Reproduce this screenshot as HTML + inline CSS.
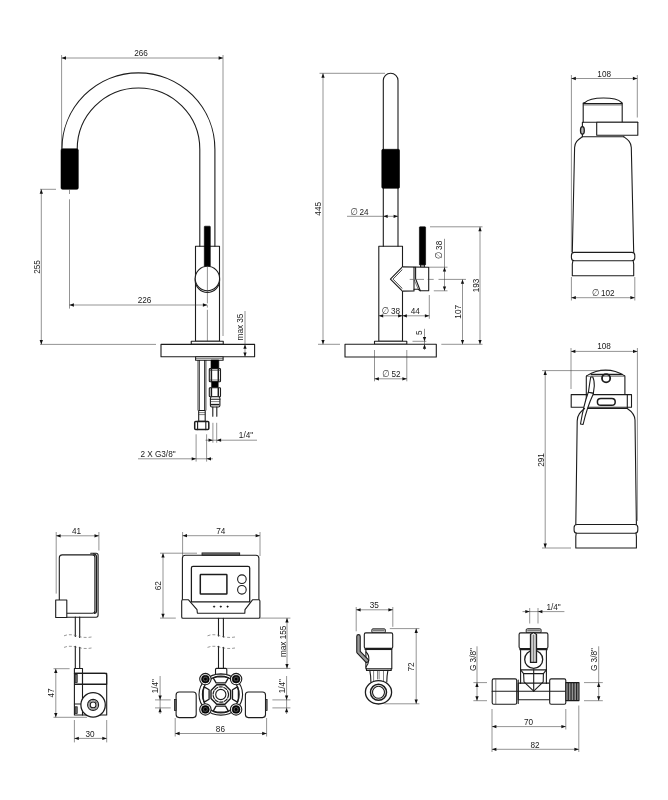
<!DOCTYPE html>
<html lang="en">
<head>
<meta charset="utf-8">
<title>Technical drawing</title>
<style>
html,body{margin:0;padding:0;background:#fff;}
body{width:668px;height:800px;overflow:hidden;}
svg{display:block;filter:blur(0.35px);font-family:"Liberation Sans","DejaVu Sans",sans-serif;}
svg text{font-size:8.2px;fill:#1a1a1a;text-anchor:middle;}
svg .ds{font-size:10px;fill:#333;font-style:italic;}
.o{fill:none;stroke:#1c1c1c;stroke-width:1.1;stroke-linejoin:round;stroke-linecap:round;}
.w{fill:#fff;stroke:#1c1c1c;stroke-width:1.1;stroke-linejoin:round;}
.t{fill:none;stroke:#1c1c1c;stroke-width:1.5;stroke-linejoin:round;}
.h{fill:none;stroke:#2a2a2a;stroke-width:0.6;}
.k{fill:#000;stroke:#000;stroke-width:0.6;stroke-linejoin:round;}
.g{fill:#777;stroke:#1c1c1c;stroke-width:0.8;}
.gl{fill:#c4c4c4;stroke:#1c1c1c;stroke-width:0.9;}
.d{fill:none;stroke:#3a3a3a;stroke-width:0.55;}
.c{fill:none;stroke:#3a3a3a;stroke-width:0.55;stroke-dasharray:9 2 2 2;}
.b{fill:none;stroke:#555;stroke-width:0.6;stroke-dasharray:3 2;}
.a{fill:#111;stroke:none;}
</style>
</head>
<body>
<svg width="668" height="800" viewBox="0 0 668 800">
<rect x="0" y="0" width="668" height="800" fill="#fff"/>
<g id="faucet-front">
<path class="o" d="M61.9 149.3 A76.5 76.5 0 0 1 214.9 149.3 L214.9 246.2"/>
<path class="o" d="M77.2 149.3 A61.3 61.3 0 0 1 199.8 149.3 L199.8 246.2"/>
<rect class="k" x="61" y="148.8" width="17.3" height="40.5" rx="1.5"/>
<rect class="o" x="195.5" y="246.25" width="24" height="95"/>
<rect class="k" x="204.3" y="226.2" width="6" height="40.2" rx="0.6"/>
<circle class="w" cx="207.4" cy="280.2" r="12.2"/>
<circle class="w" cx="207.4" cy="278.5" r="12.2"/>
<path class="d" d="M207.4 266 L207.4 303.4 M207.4 305.3 L207.4 307.6 M207.4 309.8 L207.4 345.2"/>
<rect class="w" x="191.25" y="341.25" width="32" height="3.15"/>
<rect class="w" x="161" y="344.4" width="93.6" height="12.4"/>
<rect class="w" x="195.6" y="356.7" width="27.5" height="3.5"/>
<line class="h" x1="195.6" y1="358.4" x2="223.1" y2="358.4"/>
<line class="h" x1="198" y1="360" x2="198" y2="410.5" style="stroke:#111;stroke-width:0.8"/>
<line class="h" x1="199.4" y1="360" x2="199.4" y2="410.5" style="stroke:#111;stroke-width:0.8"/>
<line class="h" x1="204.5" y1="360" x2="204.5" y2="410.5" style="stroke:#111;stroke-width:0.8"/>
<line class="h" x1="205.9" y1="360" x2="205.9" y2="410.5" style="stroke:#111;stroke-width:0.8"/>
<rect class="w" x="198.7" y="410.5" width="6.5" height="10.8"/>
<line class="h" x1="198.7" y1="412.6" x2="205.2" y2="412.6"/>
<line class="h" x1="198.7" y1="414.6" x2="205.2" y2="414.6"/>
<rect class="t" x="194.7" y="421.4" width="14.1" height="8.2" rx="1"/>
<line class="o" x1="197.6" y1="421.4" x2="197.6" y2="429.6"/>
<line class="o" x1="205.8" y1="421.4" x2="205.8" y2="429.6"/>
<rect class="k" x="211" y="360" width="7.8" height="8.6"/>
<rect class="w" x="209.3" y="368.6" width="11.2" height="13.2" rx="0.8"/>
<line class="t" x1="211.4" y1="368.6" x2="211.4" y2="381.8"/>
<line class="t" x1="218.3" y1="368.6" x2="218.3" y2="381.8"/>
<line class="h" x1="209.3" y1="370.4" x2="220.5" y2="370.4"/>
<line class="h" x1="209.3" y1="380" x2="220.5" y2="380"/>
<rect class="k" x="211.6" y="381.8" width="6.6" height="5.9"/>
<rect class="w" x="209.3" y="387.7" width="11.2" height="9" rx="0.8"/>
<line class="t" x1="211.4" y1="387.7" x2="211.4" y2="396.7"/>
<line class="t" x1="218.3" y1="387.7" x2="218.3" y2="396.7"/>
<rect class="w" x="210.4" y="396.7" width="9.5" height="10.3" rx="1.6"/>
<line class="o" x1="210.4" y1="399.2" x2="219.9" y2="399.2"/>
<line class="h" x1="210.4" y1="401.6" x2="219.9" y2="401.6"/>
<line class="t" x1="211" y1="404.6" x2="219.3" y2="404.6"/>
<line class="o" x1="212.8" y1="407" x2="212.8" y2="416.3"/>
<line class="o" x1="216.8" y1="407" x2="216.8" y2="416.3"/>
<line class="d" x1="61.6" y1="55" x2="61.6" y2="149"/>
<line class="d" x1="223" y1="55" x2="223" y2="336"/>
<line class="d" x1="61.6" y1="58" x2="223" y2="58"/>
<polygon class="a" points="61.6,58 66,56.35 66,59.65"/>
<polygon class="a" points="223,58 218.6,56.35 218.6,59.65"/>
<text x="141" y="55.95">266</text>
<line class="d" x1="40" y1="189.3" x2="56" y2="189.3"/>
<line class="d" x1="40" y1="344.4" x2="156" y2="344.4"/>
<line class="d" x1="41.3" y1="189.3" x2="41.3" y2="344.4"/>
<polygon class="a" points="41.3,189.3 39.65,193.7 42.95,193.7"/>
<polygon class="a" points="41.3,344.4 39.65,340 42.95,340"/>
<text transform="translate(36.8 267) rotate(-90)" y="2.95">255</text>
<path class="d" d="M69.5 189.8 L69.5 194 M69.5 199.3 L69.5 308.6"/>
<line class="d" x1="69.5" y1="305" x2="207.3" y2="305"/>
<polygon class="a" points="69.5,305 73.9,303.35 73.9,306.65"/>
<polygon class="a" points="207.3,305 202.9,303.35 202.9,306.65"/>
<text x="144.5" y="303.15">226</text>
<line class="d" x1="245" y1="311" x2="245" y2="356.8"/>
<polygon class="a" points="245,344.4 243.35,348.8 246.65,348.8"/>
<polygon class="a" points="245,356.8 243.35,352.4 246.65,352.4"/>
<text transform="translate(240.2 327) rotate(-90)" y="2.95">max 35</text>
<line class="d" x1="212.9" y1="422.8" x2="212.9" y2="442.7"/>
<line class="d" x1="216.7" y1="422.8" x2="216.7" y2="442.7"/>
<line class="d" x1="205.5" y1="440.2" x2="257" y2="440.2"/>
<polygon class="a" points="212.9,440.2 208.5,438.55 208.5,441.85"/>
<polygon class="a" points="216.7,440.2 221.1,438.55 221.1,441.85"/>
<text x="246" y="438.25">1/4"</text>
<line class="d" x1="196.1" y1="434.3" x2="196.1" y2="461.6"/>
<line class="d" x1="206.6" y1="434.3" x2="206.6" y2="461.6"/>
<line class="d" x1="138" y1="458.8" x2="212.9" y2="458.8"/>
<polygon class="a" points="196.1,458.8 191.7,457.15 191.7,460.45"/>
<polygon class="a" points="206.6,458.8 211,457.15 211,460.45"/>
<text x="158" y="456.55">2 X G3/8"</text>
</g>
<g id="faucet-side">
<path class="o" d="M383.3 246.2 L383.3 80.6 A7.35 7.35 0 0 1 398 80.6 L398 246.2"/>
<rect class="k" x="381.8" y="149.3" width="17.7" height="39" rx="1.2"/>
<path class="o" d="M402.5 266.8 L402.5 246.25 L378.8 246.25 L378.8 341.25 L402.5 341.25 L402.5 291.1"/>
<rect class="w" x="374.5" y="341.25" width="32.3" height="3.05"/>
<rect class="w" x="345" y="344.3" width="91.3" height="12.7"/>
<rect class="k" x="419.4" y="226.8" width="6.2" height="38.2" rx="0.6"/>
<rect class="w" x="420.6" y="265" width="3.8" height="2.3"/>
<path class="o" d="M402.4 266.8 L390.4 279.1 L402.4 291.1"/>
<path class="o" d="M402.6 269.3 L393 279.1 L402.6 288.8" style="stroke-width:0.8"/>
<path class="w" d="M402.4 266.9 L428.7 267.3 L428.7 290.7 L420.2 290.7 L418.2 289.2 L414 289.2 L414 291 L402.4 291.1"/>
<line class="o" x1="414" y1="267.2" x2="414" y2="289.2"/>
<path class="o" d="M415.6 267.3 L415.6 278.7 L420.3 290.7"/>
<path class="h" d="M414 279.3 L418.1 288.9"/>
<path class="d" d="M409.7 279.4 L413 279.4 M416.3 279.4 L424 279.4 M427.7 279.4 L433.7 279.4 M438.5 279.4 L466 279.4"/>
<line class="d" x1="319.5" y1="73.3" x2="385" y2="73.3"/>
<line class="d" x1="318" y1="344.3" x2="340" y2="344.3"/>
<line class="d" x1="323" y1="73.3" x2="323" y2="344.3"/>
<polygon class="a" points="323,73.3 321.35,77.7 324.65,77.7"/>
<polygon class="a" points="323,344.3 321.35,339.9 324.65,339.9"/>
<text transform="translate(318.3 208.8) rotate(-90)" y="2.95">445</text>
<line class="d" x1="347" y1="216.3" x2="398" y2="216.3"/>
<polygon class="a" points="383.3,216.3 387.7,214.65 387.7,217.95"/>
<polygon class="a" points="398,216.3 393.6,214.65 393.6,217.95"/>
<text x="359.4" y="214.75"><tspan class="ds" textLength="7.6" lengthAdjust="spacingAndGlyphs">&#8709;</tspan><tspan dx="-0.6"> </tspan>24</text>
<line class="d" x1="429" y1="267.2" x2="447.5" y2="267.2"/>
<line class="d" x1="433.8" y1="290.8" x2="447.5" y2="290.8"/>
<line class="d" x1="444.5" y1="238.8" x2="444.5" y2="290.8"/>
<polygon class="a" points="444.5,267.2 442.85,271.6 446.15,271.6"/>
<polygon class="a" points="444.5,290.8 442.85,286.4 446.15,286.4"/>
<text transform="translate(439.4 250) rotate(-90)" y="2.95"><tspan class="ds" textLength="7.6" lengthAdjust="spacingAndGlyphs">&#8709;</tspan><tspan dx="-0.6"> </tspan>38</text>
<line class="d" x1="462.5" y1="279.4" x2="462.5" y2="344.3"/>
<polygon class="a" points="462.5,279.4 460.85,283.8 464.15,283.8"/>
<polygon class="a" points="462.5,344.3 460.85,339.9 464.15,339.9"/>
<text transform="translate(457.6 311.8) rotate(-90)" y="2.95">107</text>
<line class="d" x1="430" y1="226.8" x2="482.5" y2="226.8"/>
<line class="d" x1="441.3" y1="344.3" x2="482.5" y2="344.3"/>
<line class="d" x1="480" y1="226.8" x2="480" y2="344.3"/>
<polygon class="a" points="480,226.8 478.35,231.2 481.65,231.2"/>
<polygon class="a" points="480,344.3 478.35,339.9 481.65,339.9"/>
<text transform="translate(475.8 285.5) rotate(-90)" y="2.95">193</text>
<line class="d" x1="378.8" y1="315.8" x2="429.3" y2="315.8"/>
<polygon class="a" points="378.8,315.8 383.2,314.15 383.2,317.45"/>
<polygon class="a" points="402.5,315.8 398.1,314.15 398.1,317.45"/>
<polygon class="a" points="402.5,315.8 406.9,314.15 406.9,317.45"/>
<polygon class="a" points="429.3,315.8 424.9,314.15 424.9,317.45"/>
<line class="d" x1="429.3" y1="295" x2="429.3" y2="318.8"/>
<text x="390.8" y="313.75"><tspan class="ds" textLength="7.6" lengthAdjust="spacingAndGlyphs">&#8709;</tspan><tspan dx="-0.6"> </tspan>38</text>
<text x="415.2" y="313.75">44</text>
<line class="d" x1="412.5" y1="341.3" x2="426.3" y2="341.3"/>
<line class="d" x1="424.5" y1="328.8" x2="424.5" y2="350"/>
<polygon class="a" points="424.5,341.3 422.85,336.9 426.15,336.9"/>
<polygon class="a" points="424.5,344.3 422.85,348.7 426.15,348.7"/>
<text transform="translate(419.4 332.6) rotate(-90)" y="2.95">5</text>
<line class="d" x1="374.5" y1="350" x2="374.5" y2="381.3"/>
<line class="d" x1="406.8" y1="350" x2="406.8" y2="381.3"/>
<line class="d" x1="374.5" y1="378.8" x2="406.8" y2="378.8"/>
<polygon class="a" points="374.5,378.8 378.9,377.15 378.9,380.45"/>
<polygon class="a" points="406.8,378.8 402.4,377.15 402.4,380.45"/>
<text x="391.3" y="376.75"><tspan class="ds" textLength="7.6" lengthAdjust="spacingAndGlyphs">&#8709;</tspan><tspan dx="-0.6"> </tspan>52</text>
</g>
<g id="filter-1">
<path class="o" d="M584.8 102.6 C591 96.6 615.5 96.6 621.4 102.3"/>
<path class="o" d="M583.2 122.3 L583.2 103 L584.8 102.6 M622.2 122.3 L622.2 103 L621.4 102.3"/>
<line class="o" x1="583.4" y1="103.6" x2="622" y2="103.6"/>
<line class="h" x1="583.4" y1="105" x2="622" y2="105"/>
<path class="o" d="M623.7 136.7 L582.4 136.7 L582.4 122.3 L637.8 122.3"/>
<rect class="w" x="596.7" y="122.3" width="41.1" height="13"/>
<ellipse class="w" cx="582.4" cy="130.4" rx="1.9" ry="3.7" style="stroke-width:1.3;fill:#bbb"/>
<path class="o" d="M582.4 136.7 C578.5 139.5 574.8 141.5 574.6 147.5 L572.3 252.4 M623.7 136.7 C627.5 139.5 631 141.5 631.3 147.5 L633.7 252.4"/>
<rect class="w" x="571.4" y="252.4" width="63.4" height="8.4" rx="3"/>
<path class="o" d="M572.9 260.8 L572.3 264 L572.3 275.7 L633.7 275.7 L633.7 264 L633.2 260.8"/>
<line class="d" x1="571.4" y1="75" x2="571.4" y2="252"/>
<line class="d" x1="637.3" y1="75" x2="637.3" y2="117.5"/>
<line class="d" x1="571.4" y1="78.5" x2="637.3" y2="78.5"/>
<polygon class="a" points="571.4,78.5 575.8,76.85 575.8,80.15"/>
<polygon class="a" points="637.3,78.5 632.9,76.85 632.9,80.15"/>
<text x="604.2" y="76.75">108</text>
<line class="d" x1="571.4" y1="277" x2="571.4" y2="300.5"/>
<line class="d" x1="634.8" y1="277" x2="634.8" y2="300.5"/>
<line class="d" x1="571.4" y1="297.7" x2="634.8" y2="297.7"/>
<polygon class="a" points="571.4,297.7 575.8,296.05 575.8,299.35"/>
<polygon class="a" points="634.8,297.7 630.4,296.05 630.4,299.35"/>
<text x="603.2" y="295.55"><tspan class="ds" textLength="7.6" lengthAdjust="spacingAndGlyphs">&#8709;</tspan><tspan dx="-0.6"> </tspan>102</text>
</g>
<g id="filter-2">
<path class="o" d="M586.3 394.6 L586.3 376.6 Q586.4 375.9 587 375.6 A34.4 34.4 0 0 1 624.3 375.6 Q624.9 375.9 624.9 376.6 L624.9 394.6"/>
<line class="t" x1="590.7" y1="374.6" x2="622.5" y2="374.6"/>
<line class="h" x1="586.6" y1="376.3" x2="624.6" y2="376.3"/>
<circle class="o" cx="606.1" cy="378.3" r="4.1" style="stroke-width:1.8"/>
<rect class="w" x="571.2" y="394.6" width="60.3" height="12.7"/>
<path class="o" d="M586.3 394.6 L586.3 408.5 L627.3 408.5 L627.3 394.6"/>
<rect class="t" x="597.4" y="398.6" width="17.8" height="6.7" rx="3.35"/>
<path class="w" d="M590.7 377 L589.6 384 L588.4 392.4 L593.3 393.6 L594.3 386 Q594.3 380 592.8 377 Z"/>
<path class="w" d="M588.3 392.2 L593.5 393.4 C589 403 585.6 413 583.1 424.5 L580.5 424 C582.5 412 585 401 588.3 392.2 Z"/>
<path class="o" d="M584.6 408.5 C581 411.5 577.2 414.5 577.2 421 L575.8 524.5 M627.3 408.5 C631 411 634.8 414 635 420 L636.4 524.5"/>
<rect class="w" x="574.1" y="524.5" width="63.7" height="8.8" rx="3"/>
<path class="o" d="M576.2 533.3 L575.8 536.5 L575.8 548 L636.4 548 L636.4 536.5 L636 533.3"/>
<line class="d" x1="571" y1="348" x2="571" y2="389"/>
<line class="d" x1="637.4" y1="348" x2="637.4" y2="521"/>
<line class="d" x1="571" y1="351.4" x2="637.4" y2="351.4"/>
<polygon class="a" points="571,351.4 575.4,349.75 575.4,353.05"/>
<polygon class="a" points="637.4,351.4 633,349.75 633,353.05"/>
<text x="604.1" y="349.45">108</text>
<line class="d" x1="542" y1="370.6" x2="607.6" y2="370.6"/>
<line class="d" x1="542" y1="548" x2="571" y2="548"/>
<line class="d" x1="545.2" y1="370.6" x2="545.2" y2="548"/>
<polygon class="a" points="545.2,370.6 543.55,375 546.85,375"/>
<polygon class="a" points="545.2,548 543.55,543.6 546.85,543.6"/>
<text transform="translate(541 460) rotate(-90)" y="2.95">291</text>
</g>
<g id="control-side">
<path class="o" d="M59.3 600 L59.3 557.9 Q59.3 554.9 62.3 554.9 L92.4 554.9 Q94.9 554.9 94.9 557.4 L94.9 610.8 Q94.9 613.3 92.4 613.3 L66.8 613.3"/>
<path class="o" d="M90.7 553.3 L96.1 553.3 Q98.1 553.3 98.1 555.3 L98.1 615 Q98.1 617.2 96.1 617.2 L66.8 617.2"/>
<path class="t" d="M93 553.9 Q96.5 554 96.5 557 L96.5 611 Q96.5 613.3 94 613.3" style="stroke-width:1.3"/>
<rect class="w" x="55.7" y="600" width="11.1" height="17.5"/>
<line class="o" x1="75.3" y1="617" x2="75.3" y2="636.5"/>
<line class="o" x1="79.7" y1="617" x2="79.7" y2="637.5"/>
<line class="o" x1="75.3" y1="646.2" x2="75.3" y2="668.5"/>
<line class="o" x1="79.7" y1="647.2" x2="79.7" y2="668.5"/>
<path class="b" d="M64 635.8 C68 634.2 72 634.4 76.5 635.8 C81 637.3 86 638 91.5 637"/>
<path class="b" d="M64 647.4 C68 645.8 72 646 76.5 647.2 C81 648.4 86 649 91.5 648"/>
<rect class="w" x="74.4" y="668.5" width="8.1" height="4.9"/>
<path class="o" d="M82.5 684.2 L82.5 673.4 L104.7 673.4 Q106.7 673.4 106.7 675.4 L106.7 684.2"/>
<rect class="o" x="74.4" y="673.4" width="32.3" height="41.6"/>
<line class="o" x1="82.5" y1="673.4" x2="82.5" y2="715"/>
<line class="t" x1="74.4" y1="684.2" x2="106.7" y2="684.2"/>
<line class="o" x1="74.4" y1="704" x2="81.5" y2="704"/>
<rect class="g" x="75" y="674.6" width="2.2" height="7.8"/>
<rect class="g" x="75" y="706.8" width="2.2" height="6.6"/>
<circle class="w" cx="93.1" cy="704.9" r="12.2" style="stroke-width:1.25"/>
<circle class="o" cx="93.1" cy="704.9" r="5.5"/>
<circle class="h" cx="93.1" cy="704.9" r="4.2"/>
<circle class="o" cx="93.1" cy="704.9" r="2.9"/>
<line class="d" x1="56.2" y1="532" x2="56.2" y2="593.6"/>
<line class="d" x1="98.9" y1="532" x2="98.9" y2="550.5"/>
<line class="d" x1="56.2" y1="535.8" x2="98.9" y2="535.8"/>
<polygon class="a" points="56.2,535.8 60.6,534.15 60.6,537.45"/>
<polygon class="a" points="98.9,535.8 94.5,534.15 94.5,537.45"/>
<text x="76.5" y="534.05">41</text>
<line class="d" x1="53.5" y1="668.7" x2="69.6" y2="668.7"/>
<line class="d" x1="53.5" y1="717.3" x2="87" y2="717.3"/>
<line class="d" x1="55.8" y1="668.7" x2="55.8" y2="717.3"/>
<polygon class="a" points="55.8,668.7 54.15,673.1 57.45,673.1"/>
<polygon class="a" points="55.8,717.3 54.15,712.9 57.45,712.9"/>
<text transform="translate(51.1 693) rotate(-90)" y="2.95">47</text>
<line class="d" x1="74.4" y1="720" x2="74.4" y2="742.4"/>
<line class="d" x1="106.7" y1="720" x2="106.7" y2="742.4"/>
<line class="d" x1="74.4" y1="738.4" x2="106.7" y2="738.4"/>
<polygon class="a" points="74.4,738.4 78.8,736.75 78.8,740.05"/>
<polygon class="a" points="106.7,738.4 102.3,736.75 102.3,740.05"/>
<text x="90" y="736.75">30</text>
</g>
<g id="control-front">
<rect class="g" x="202" y="552.9" width="37.7" height="2.3"/>
<path class="o" d="M182.4 600 L182.4 558.2 Q182.4 555.2 185.4 555.2 L255.9 555.2 Q258.9 555.2 258.9 558.2 L258.9 600"/>
<path class="w" d="M181.7 601 Q181.7 599.8 182.9 599.8 L188.5 599.8 L197 609.7 L197.4 613.3 L244.8 613.3 L245 609.7 L252.5 599.8 L258.7 599.8 Q259.9 599.8 259.9 601 L259.9 617 Q259.9 618.3 258.6 618.3 L183 618.3 Q181.7 618.3 181.7 617 Z"/>
<path class="t" d="M191.4 601.9 L191.4 568 Q191.4 566.3 193 566.3 L248 566.3 Q249.7 566.3 249.7 568 L249.7 601.9 Z" style="stroke-width:1.25"/>
<rect class="t" x="200.3" y="574.6" width="26.6" height="19.5" rx="0.6"/>
<circle class="o" cx="241.9" cy="579.2" r="4.3"/>
<circle class="o" cx="241.9" cy="589.8" r="4.3"/>
<circle class="k" cx="214.1" cy="606.6" r="0.7"/>
<circle class="k" cx="220.8" cy="606.6" r="0.7"/>
<circle class="k" cx="227.6" cy="606.6" r="0.7"/>
<line class="o" x1="218.5" y1="618.3" x2="218.5" y2="636"/>
<line class="o" x1="223.4" y1="618.3" x2="223.4" y2="637"/>
<line class="o" x1="218.5" y1="646.2" x2="218.5" y2="668.4"/>
<line class="o" x1="223.4" y1="647.2" x2="223.4" y2="668.4"/>
<path class="b" d="M207.5 635.8 C211.5 634.2 215.5 634.4 220 635.8 C224.5 637.3 229.5 638 235 637"/>
<path class="b" d="M207.5 647.4 C211.5 645.8 215.5 646 220 647.2 C224.5 648.4 229.5 649 235 648"/>
<path class="w" d="M215.5 676.5 L215.5 669.4 Q215.5 668.4 216.5 668.4 L225.8 668.4 Q226.8 668.4 226.8 669.4 L226.8 676.5"/>
<rect class="w" x="176.1" y="692" width="20.1" height="25.6" rx="3"/>
<rect class="w" x="245.4" y="692" width="20.1" height="25.6" rx="3"/>
<rect class="g" x="174.5" y="699.4" width="1.6" height="11"/>
<rect class="g" x="265.5" y="699.4" width="1.6" height="11"/>
<ellipse class="w" cx="220.8" cy="694.5" rx="21.8" ry="20.6"/>
<line class="h" x1="216" y1="674.4" x2="226.3" y2="674.4"/>
<circle class="o" cx="220.8" cy="694.5" r="18.4"/>
<path class="t" d="M216.1 682.8 L225.5 682.8 L228.4 677.9 L224.8 676.9 L216.8 676.9 L213.2 677.9 Z" style="stroke-width:1.3"/>
<path class="t" d="M232.5 689.8 L232.5 699.2 L237.4 702.1 L238.4 698.5 L238.4 690.5 L237.4 686.9 Z" style="stroke-width:1.3"/>
<path class="t" d="M225.5 706.2 L216.1 706.2 L213.2 711.1 L216.8 712.1 L224.8 712.1 L228.4 711.1 Z" style="stroke-width:1.3"/>
<path class="t" d="M209.1 699.2 L209.1 689.8 L204.2 686.9 L203.2 690.5 L203.2 698.5 L204.2 702.1 Z" style="stroke-width:1.3"/>
<path class="t" d="M230.59 698.56 L224.86 704.29 L216.74 704.29 L211.01 698.56 L211.01 690.44 L216.74 684.71 L224.86 684.71 L230.59 690.44 Z" style="stroke-width:1.4"/>
<circle class="o" cx="220.8" cy="694.5" r="7.7" style="stroke-dasharray:3.4 1.5;stroke-width:1.2"/>
<circle class="o" cx="220.8" cy="694.5" r="5.1"/>
<circle class="w" cx="205.4" cy="679.1" r="5.7"/>
<circle class="k" cx="205.4" cy="679.1" r="3.9"/>
<circle class="g" cx="205.4" cy="679.1" r="2.5"/>
<circle class="k" cx="205.4" cy="679.1" r="1.3"/>
<circle class="w" cx="236.1" cy="679.1" r="5.7"/>
<circle class="k" cx="236.1" cy="679.1" r="3.9"/>
<circle class="g" cx="236.1" cy="679.1" r="2.5"/>
<circle class="k" cx="236.1" cy="679.1" r="1.3"/>
<circle class="w" cx="205.4" cy="709.4" r="5.7"/>
<circle class="k" cx="205.4" cy="709.4" r="3.9"/>
<circle class="g" cx="205.4" cy="709.4" r="2.5"/>
<circle class="k" cx="205.4" cy="709.4" r="1.3"/>
<circle class="w" cx="236.1" cy="709.4" r="5.7"/>
<circle class="k" cx="236.1" cy="709.4" r="3.9"/>
<circle class="g" cx="236.1" cy="709.4" r="2.5"/>
<circle class="k" cx="236.1" cy="709.4" r="1.3"/>
<line class="d" x1="182.6" y1="532" x2="182.6" y2="556"/>
<line class="d" x1="260" y1="532" x2="260" y2="556"/>
<line class="d" x1="182.6" y1="535.7" x2="260" y2="535.7"/>
<polygon class="a" points="182.6,535.7 187,534.05 187,537.35"/>
<polygon class="a" points="260,535.7 255.6,534.05 255.6,537.35"/>
<text x="220.7" y="533.55">74</text>
<line class="d" x1="160" y1="553.2" x2="197" y2="553.2"/>
<line class="d" x1="160" y1="618.1" x2="175.8" y2="618.1"/>
<line class="d" x1="163" y1="553.2" x2="163" y2="618.1"/>
<polygon class="a" points="163,553.2 161.35,557.6 164.65,557.6"/>
<polygon class="a" points="163,618.1 161.35,613.7 164.65,613.7"/>
<text transform="translate(158.5 585.8) rotate(-90)" y="2.95">62</text>
<line class="d" x1="260" y1="618.1" x2="290.4" y2="618.1"/>
<line class="d" x1="226.5" y1="668.4" x2="290.4" y2="668.4"/>
<line class="d" x1="287" y1="618.1" x2="287" y2="668.4"/>
<polygon class="a" points="287,618.1 285.35,622.5 288.65,622.5"/>
<polygon class="a" points="287,668.4 285.35,664 288.65,664"/>
<text transform="translate(283.2 641.3) rotate(-90)" y="2.95">max 155</text>
<line class="d" x1="175.2" y1="718" x2="175.2" y2="736.5"/>
<line class="d" x1="266.6" y1="718" x2="266.6" y2="736.5"/>
<line class="d" x1="175.2" y1="733.5" x2="266.6" y2="733.5"/>
<polygon class="a" points="175.2,733.5 179.6,731.85 179.6,735.15"/>
<polygon class="a" points="266.6,733.5 262.2,731.85 262.2,735.15"/>
<text x="220.4" y="731.55">86</text>
<line class="d" x1="155" y1="699.9" x2="170.7" y2="699.9"/>
<line class="d" x1="155" y1="707.9" x2="170.7" y2="707.9"/>
<line class="d" x1="160.1" y1="676" x2="160.1" y2="714"/>
<polygon class="a" points="160.1,699.9 158.45,695.5 161.75,695.5"/>
<polygon class="a" points="160.1,707.9 158.45,712.3 161.75,712.3"/>
<text transform="translate(155.2 686.2) rotate(-90)" y="2.95">1/4"</text>
<line class="d" x1="272.4" y1="699.9" x2="290.4" y2="699.9"/>
<line class="d" x1="272.4" y1="707.9" x2="290.4" y2="707.9"/>
<line class="d" x1="286.6" y1="676" x2="286.6" y2="714"/>
<polygon class="a" points="286.6,699.9 284.95,695.5 288.25,695.5"/>
<polygon class="a" points="286.6,707.9 284.95,712.3 288.25,712.3"/>
<text transform="translate(282.4 686.2) rotate(-90)" y="2.95">1/4"</text>
</g>
<g id="valve-side">
<rect class="gl" x="371.8" y="628.8" width="13.6" height="4.2" rx="1.2"/>
<line class="h" x1="373" y1="630.3" x2="384.2" y2="630.3"/>
<rect class="w" x="364.3" y="632.9" width="28.4" height="15.5" rx="1.5"/>
<path class="t" d="M364.6 649.3 L392.4 649.3"/>
<path class="o" d="M365.9 650.2 L365.9 668.7 L391.8 668.7 L391.8 650.2"/>
<path class="o" d="M366.5 668.7 L366.5 670.4 L391.2 670.4 L391.2 668.7"/>
<path class="o" d="M369.8 670.4 Q370.9 676 370.9 682 M387.9 670.4 Q386.8 676 386.8 682"/>
<path class="h" d="M373.6 671 L373.6 681 M383.5 671 L383.5 681"/>
<path class="h" d="M377.5 670.4 L377.5 679.4 M379.1 670.4 L379.1 679.4"/>
<ellipse class="w" cx="378.5" cy="692.3" rx="13.1" ry="11.7" style="stroke-width:1.3"/>
<circle class="t" cx="378.5" cy="692.3" r="8"/>
<circle class="o" cx="378.5" cy="692.3" r="6"/>
<path class="o" d="M366 652 Q369.4 655 368.8 660 Q368.4 664 366 667"/>
<path d="M358.5 636.4 L358.5 652 L366.8 660.6" fill="none" stroke="#1c1c1c" stroke-width="4.6" stroke-linecap="round" stroke-linejoin="round"/>
<path d="M358.5 636.4 L358.5 652 L366.8 660.6" fill="none" stroke="#999" stroke-width="2.4" stroke-linecap="round" stroke-linejoin="round"/>
<line class="d" x1="356.2" y1="607" x2="356.2" y2="631.3"/>
<line class="d" x1="392.8" y1="607" x2="392.8" y2="626.8"/>
<line class="d" x1="356.2" y1="609.8" x2="392.8" y2="609.8"/>
<polygon class="a" points="356.2,609.8 360.6,608.15 360.6,611.45"/>
<polygon class="a" points="392.8,609.8 388.4,608.15 388.4,611.45"/>
<text x="374.2" y="608.25">35</text>
<line class="d" x1="389.8" y1="628.6" x2="419.4" y2="628.6"/>
<line class="d" x1="384.4" y1="703.8" x2="419.4" y2="703.8"/>
<line class="d" x1="416.2" y1="628.6" x2="416.2" y2="703.8"/>
<polygon class="a" points="416.2,628.6 414.55,633 417.85,633"/>
<polygon class="a" points="416.2,703.8 414.55,699.4 417.85,699.4"/>
<text transform="translate(411.4 666.9) rotate(-90)" y="2.95">72</text>
</g>
<g id="valve-front">
<rect class="gl" x="526.2" y="628.7" width="14.9" height="4.3" rx="1.2"/>
<line class="h" x1="527.4" y1="630.3" x2="539.9" y2="630.3"/>
<rect class="w" x="519.1" y="632.9" width="28.8" height="15.7" rx="1.5"/>
<path class="t" d="M519.4 649.5 L547.6 649.5"/>
<path class="o" d="M520.6 650.4 L520.6 669.9 L546.4 669.9 L546.4 650.4"/>
<circle class="o" cx="533.7" cy="659.4" r="9" style="stroke-width:1.3"/>
<path class="w" d="M530.4 662.4 L530.4 634.4 L533.5 632.6 L536.6 634.4 L536.6 662.4 Z"/>
<line class="h" x1="531.9" y1="634.6" x2="531.9" y2="662"/>
<line class="h" x1="533.5" y1="634.6" x2="533.5" y2="662"/>
<line class="h" x1="535.1" y1="634.6" x2="535.1" y2="662"/>
<path class="o" d="M520.6 669.9 L520.6 683.4 M546.4 669.9 L546.4 683.4"/>
<path class="o" d="M520.6 669.9 L523.6 673.6 L543.4 673.6 L546.4 669.9"/>
<path class="o" d="M523.6 673.6 L524 681.9 L533.7 691.2 L543.2 681.9 L543.4 673.6"/>
<line class="o" x1="533.7" y1="669.9" x2="533.7" y2="691.2"/>
<rect class="o" x="518.2" y="683.1" width="31.5" height="16.7"/>
<rect class="w" x="492.2" y="678.9" width="24.5" height="25.4" rx="1.5"/>
<line class="h" x1="495.8" y1="679.2" x2="495.8" y2="704"/>
<line class="o" x1="518.2" y1="680" x2="518.2" y2="703.4"/>
<rect class="w" x="549.7" y="678.9" width="16.1" height="25.4" rx="1.5"/>
<line class="o" x1="492.2" y1="691.2" x2="565.8" y2="691.2"/>
<rect class="w" x="565.8" y="682.6" width="13.2" height="18"/>
<line class="o" x1="567.1" y1="682.8" x2="567.1" y2="700.4"/>
<line class="o" x1="568.65" y1="682.8" x2="568.65" y2="700.4"/>
<line class="o" x1="570.2" y1="682.8" x2="570.2" y2="700.4"/>
<line class="o" x1="571.75" y1="682.8" x2="571.75" y2="700.4"/>
<line class="o" x1="573.3" y1="682.8" x2="573.3" y2="700.4"/>
<line class="o" x1="574.85" y1="682.8" x2="574.85" y2="700.4"/>
<line class="o" x1="576.4" y1="682.8" x2="576.4" y2="700.4"/>
<line class="o" x1="577.95" y1="682.8" x2="577.95" y2="700.4"/>
<line class="d" x1="529.7" y1="608" x2="529.7" y2="623.5"/>
<line class="d" x1="538" y1="608" x2="538" y2="623.5"/>
<line class="d" x1="522.5" y1="611.6" x2="564.4" y2="611.6"/>
<polygon class="a" points="529.7,611.6 525.3,609.95 525.3,613.25"/>
<polygon class="a" points="538,611.6 542.4,609.95 542.4,613.25"/>
<text x="553.6" y="609.75">1/4"</text>
<line class="d" x1="473.4" y1="682.6" x2="487" y2="682.6"/>
<line class="d" x1="473.4" y1="700.7" x2="487" y2="700.7"/>
<line class="d" x1="477" y1="646.3" x2="477" y2="700.7"/>
<polygon class="a" points="477,682.6 475.35,687 478.65,687"/>
<polygon class="a" points="477,700.7 475.35,696.3 478.65,696.3"/>
<text transform="translate(472.9 659.6) rotate(-90)" y="2.95">G 3/8"</text>
<line class="d" x1="584" y1="682.6" x2="602.8" y2="682.6"/>
<line class="d" x1="584" y1="700.7" x2="602.8" y2="700.7"/>
<line class="d" x1="598.7" y1="646.3" x2="598.7" y2="700.7"/>
<polygon class="a" points="598.7,682.6 597.05,687 600.35,687"/>
<polygon class="a" points="598.7,700.7 597.05,696.3 600.35,696.3"/>
<text transform="translate(594.3 659.6) rotate(-90)" y="2.95">G 3/8"</text>
<line class="d" x1="492" y1="709" x2="492" y2="752"/>
<line class="d" x1="565.8" y1="709" x2="565.8" y2="729.5"/>
<line class="d" x1="578.8" y1="705.5" x2="578.8" y2="752"/>
<line class="d" x1="492" y1="726.6" x2="565.8" y2="726.6"/>
<polygon class="a" points="492,726.6 496.4,724.95 496.4,728.25"/>
<polygon class="a" points="565.8,726.6 561.4,724.95 561.4,728.25"/>
<text x="528.6" y="724.75">70</text>
<line class="d" x1="492" y1="749.3" x2="578.8" y2="749.3"/>
<polygon class="a" points="492,749.3 496.4,747.65 496.4,750.95"/>
<polygon class="a" points="578.8,749.3 574.4,747.65 574.4,750.95"/>
<text x="535" y="747.55">82</text>
</g>
</svg>
</body>
</html>
